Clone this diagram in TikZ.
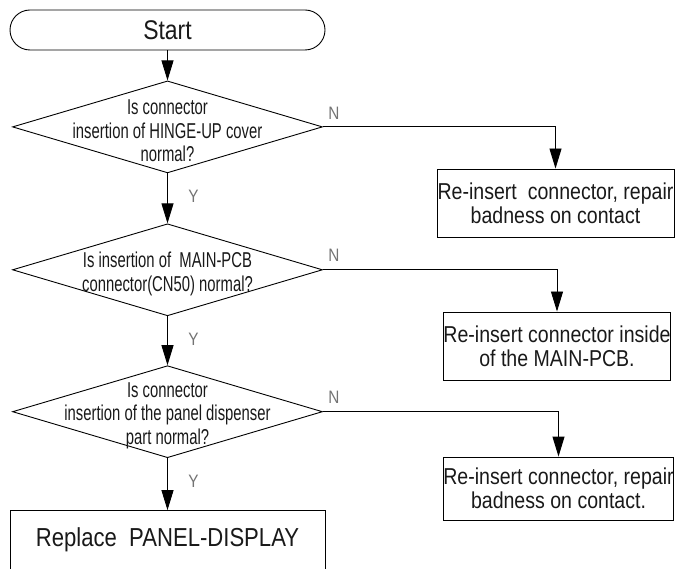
\documentclass[tikz,border=0pt]{standalone}
\usepackage{fontspec}
\setmainfont{Liberation Sans}
\newfontfamily\narrowfont[FakeStretch=0.85]{Liberation Sans}
\newfontfamily\condfont[FakeStretch=0.69]{Liberation Sans}
\usetikzlibrary{arrows.meta, positioning, shapes.geometric}

\begin{document}
\begin{tikzpicture}[
    x=1pt, y=1pt,
    node distance=30pt,
    terminal/.style={draw, rounded corners=20pt, minimum width=315pt, minimum height=40pt, inner sep=0pt, text=black!90, font=\narrowfont\fontsize{27}{30}\selectfont},
    decision/.style={draw, diamond, minimum width=310pt, minimum height=92pt, inner sep=0pt},
    qtext/.style={align=center, inner sep=0pt, yshift=-4pt, text=black!90, font=\condfont\fontsize{21.5}{23.5}\selectfont},
    fixbox/.style={draw, align=center, minimum height=68pt, inner sep=0pt, text=black!90, font=\narrowfont\fontsize{23}{24}\selectfont},
    endbox/.style={draw, minimum width=315pt, minimum height=59pt, text=black!90, font=\narrowfont\fontsize{26}{28}\selectfont},
    arrow/.style={-{Triangle[length=20pt, width=12pt]}, line width=0.9pt},
    yn/.style={text=black!55, inner sep=0pt, font=\narrowfont\fontsize{18}{18}\selectfont},
    line width=0.9pt,
]
    \useasboundingbox (0,0) rectangle (675,-569);

    % main column
    \node[terminal] (start) at (167.5,-30) {Start};
    \node[decision, below=30pt of start, label={[qtext]center:{Is connector\\insertion of HINGE-UP cover\\normal?}}] (d1) {};
    \node[decision, below=50pt of d1, label={[qtext]center:{Is insertion of\ \ MAIN-PCB\\connector(CN50) normal?}}] (d2) {};
    \node[decision, below=49pt of d2, label={[qtext]center:{Is connector\\insertion of the panel dispenser\\part normal?}}] (d3) {};
    \node[endbox, below=52pt of d3] (replace) {Replace\ \ PANEL-DISPLAY};

    % repair boxes
    \node[fixbox, minimum width=237pt] (fix1) at (555.5,-203) {Re-insert\ \ connector, repair\\badness on contact};
    \node[fixbox, minimum width=226pt] (fix2) at (557,-346) {Re-insert connector inside\\of the MAIN-PCB.};
    \node[fixbox, minimum width=229pt, minimum height=63pt] (fix3) at (558.5,-488.5) {Re-insert connector, repair\\badness on contact.};

    \draw[arrow] (start) -- (d1);
    \draw[arrow] (d1) -- (d2);
    \draw[arrow] (d2) -- (d3);
    \draw[arrow] (d3) -- (replace);
    \draw[arrow] (d1.east) -| (fix1.north);
    \draw[arrow] (d2.east) -| (fix2.north);
    \draw[arrow] (d3.east) -| (fix3.north);

    \foreach \q in {d1,d2,d3} {
        \node[yn] (n-\q) at ([xshift=11pt, yshift=14pt]\q.east) {N};
        \node[yn] (y-\q) at ([xshift=26pt, yshift=-23pt]\q.south) {Y};
    }
\end{tikzpicture}
\end{document}
